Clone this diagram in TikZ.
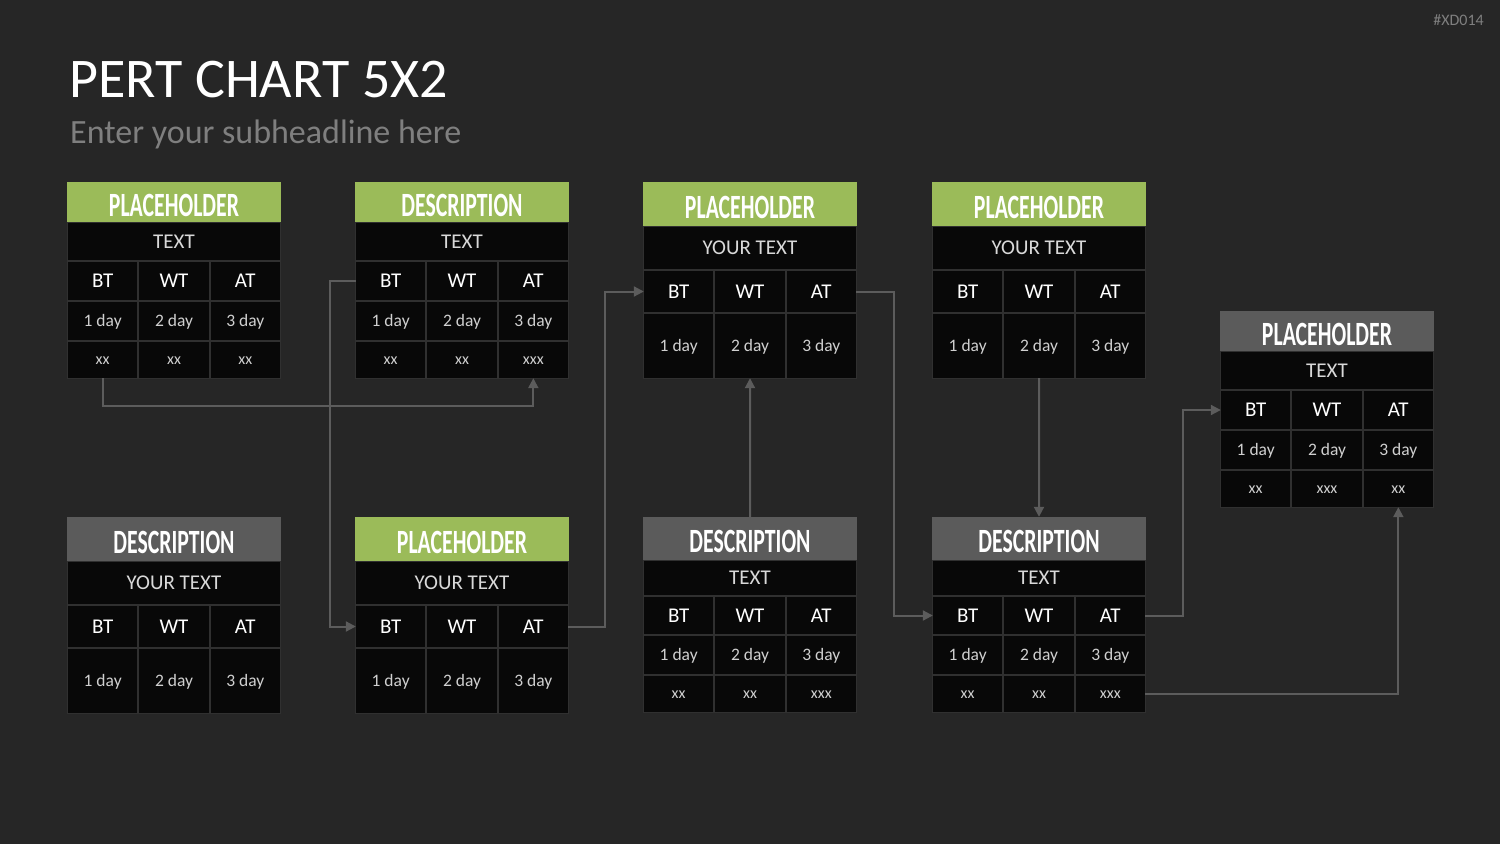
\documentclass[tikz,border=0pt]{standalone}
\usepackage{fontspec}
\setmainfont{Carlito}
\newfontfamily\headfont[FakeStretch=0.64]{Carlito}
\usetikzlibrary{arrows.meta}
\definecolor{bg}{HTML}{262626}
\definecolor{cellc}{HTML}{080808}
\definecolor{gridc}{HTML}{303030}
\definecolor{hgreen}{HTML}{9BBB59}
\definecolor{hgray}{HTML}{5B5B5B}
\definecolor{connc}{HTML}{5C5C5C}
\definecolor{subc}{HTML}{D9D9D9}
\definecolor{dayc}{HTML}{D0D0D0}
\definecolor{subhead}{HTML}{7F7F7F}

\tikzset{
 cellbox/.style={fill=cellc, inner sep=0pt, text depth=0pt, align=center},
 headbox/.style={inner sep=0pt, minimum width=214pt, text=white, font=\headfont\bfseries\fontsize{34}{34}\selectfont, text height=28pt, text depth=0pt},
 subtxt/.style={text=subc, font=\fontsize{21}{21}\selectfont, text height=13.5pt},
 bttxt/.style={text=white, font=\fontsize{21}{21}\selectfont, text height=13.5pt},
 daytxt/.style={text=dayc, font=\fontsize{17.5}{17.5}\selectfont, text height=11.3pt},
 xxtxt/.style={text=dayc, font=\fontsize{16}{16}\selectfont, text height=8.5pt},
 conn/.style={draw=connc, line width=2pt, -{Triangle[length=10pt,width=10pt]}},
}

\newcommand\settype[1]{\ifcase#1\or
  \def\hH{40}\def\hS{39}\def\hB{40}\def\hD{40}\def\hX{38}\or
  \def\hH{44}\def\hS{44}\def\hB{43}\def\hD{66}\def\hX{0}\or
  \def\hH{43}\def\hS{36}\def\hB{39}\def\hD{40}\def\hX{38}\fi}
\def\pbsplit#1/#2/#3\relax{\def\xA{#1}\def\xB{#2}\def\xC{#3}}

% id, x, y, type, colour, title, subtitle, xx-list
\newcommand\PB[8]{%
  \settype{#4}\pbsplit#8\relax
  \pgfmathsetmacro\pbA{#3+\hH}%
  \pgfmathsetmacro\pbB{\pbA+\hS}%
  \pgfmathsetmacro\pbC{\pbB+\hB}%
  \pgfmathsetmacro\pbD{\pbC+\hD}%
  \pgfmathsetmacro\pbE{\pbD+\hX}%
  \pgfmathsetmacro\pbhS{\hS-2}%
  \pgfmathsetmacro\pbhB{\hB-2}%
  \pgfmathsetmacro\pbhD{\hD-2}%
  \pgfmathsetmacro\pbhX{\hX-2}%
  \fill[gridc] (#2,\pbA) rectangle (#2+214,\pbE);
  \node[headbox, fill=#5, minimum height=\hH pt] (#1h) at (#2+107,#3+\hH/2) {#6};
  \node[cellbox, subtxt, minimum width=212pt, minimum height=\pbhS pt] (#1s) at (#2+107,\pbA+\hS/2) {#7};
  \foreach \k/\t in {1/BT,2/WT,3/AT}{
    \node[cellbox, bttxt, minimum width=69.3pt, minimum height=\pbhB pt] (#1bt\k) at (#2+35.667*2*\k-35.667,\pbB+\hB/2) {\t};
  }
  \foreach \k in {1,2,3}{
    \node[cellbox, daytxt, minimum width=69.3pt, minimum height=\pbhD pt] (#1d\k) at (#2+35.667*2*\k-35.667,\pbC+\hD/2) {\k\ day};
  }
  \ifdim\hX pt>0pt
  \foreach \k/\t in {1/\xA,2/\xB,3/\xC}{
    \node[cellbox, xxtxt, minimum width=69.3pt, minimum height=\pbhX pt] (#1x\k) at (#2+35.667*2*\k-35.667,\pbD+\hX/2) {\t};
  }
  \fi
}

\begin{document}
\begin{tikzpicture}[x=1pt,y=-1pt]
\fill[bg] (0,0) rectangle (1500,844);
\useasboundingbox (0,0) rectangle (1500,844);

\node[anchor=base east, inner sep=0pt, text=subhead, font=\fontsize{16}{16}\selectfont] (tag) at (1484,25) {\#XD014};
\node[anchor=base west, inner sep=0pt, text=white, font=\fontsize{56}{56}\selectfont] (title) at (69,97) {PERT CHART 5X2};
\node[anchor=base west, inner sep=0pt, text=subhead, font=\fontsize{34}{34}\selectfont] (subtitle) at (70,143) {Enter your subheadline here};

\PB{b1}{67}{182}{1}{hgreen}{PLACEHOLDER}{TEXT}{xx/xx/xx}
\PB{b2}{355}{182}{1}{hgreen}{DESCRIPTION}{TEXT}{xx/xx/xxx}
\PB{b3}{643}{182}{2}{hgreen}{PLACEHOLDER}{YOUR TEXT}{//}
\PB{b4}{932}{182}{2}{hgreen}{PLACEHOLDER}{YOUR TEXT}{//}
\PB{b5}{1220}{311}{1}{hgray}{PLACEHOLDER}{TEXT}{xx/xxx/xx}
\PB{b6}{67}{517}{2}{hgray}{DESCRIPTION}{YOUR TEXT}{//}
\PB{b7}{355}{517}{2}{hgreen}{PLACEHOLDER}{YOUR TEXT}{//}
\PB{b8}{643}{517}{3}{hgray}{DESCRIPTION}{TEXT}{xx/xx/xxx}
\PB{b9}{932}{517}{3}{hgray}{DESCRIPTION}{TEXT}{xx/xx/xxx}

\draw[conn] (b1x1.south) -- ++(0,28) -| (b2x3.south);
\draw[conn] (b2bt1.west) -- ++(-26,0) |- (b7bt1.west);
\draw[conn] (b7bt3.east) -- ++(37,0) |- (b3bt1.west);
\draw[conn] (b8h.north) -- (b3d2.south);
\draw[conn] (b3bt3.east) -- ++(38,0) |- (b9bt1.west);
\draw[conn] (b4d2.south) -- (b9h.north);
\draw[conn] (b9bt3.east) -- ++(38,0) |- (b5bt1.west);
\draw[conn] (b9x3.east) -| (b5x3.south);
\end{tikzpicture}
\end{document}
